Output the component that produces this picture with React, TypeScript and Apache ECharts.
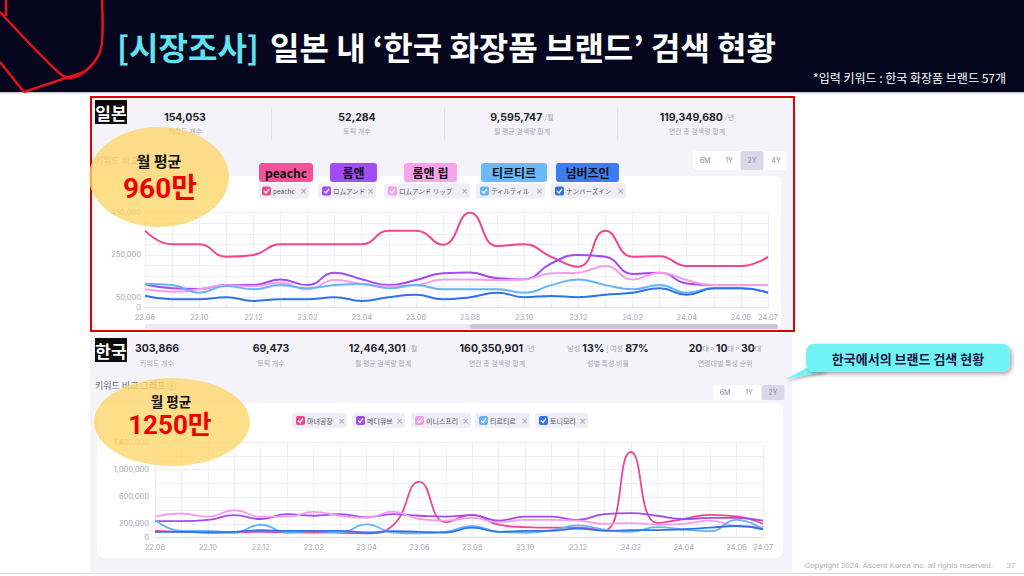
import React, { useEffect, useRef } from "react";
import * as echarts from "echarts";

// ---------- data ----------
const months = [
  "22.08", "22.09", "22.10", "22.11", "22.12", "23.01", "23.02", "23.03", "23.04", "23.05", "23.06", "23.07",
  "23.08", "23.09", "23.10", "23.11", "23.12", "24.01", "24.02", "24.03", "24.04", "24.05", "24.06", "24.07",
];

// Japan (monthly search volume)
const jpBrands = ["peachc", "ロムアンド", "ロムアンド リップ", "ティルティル", "ナンバーズイン"];
const jpBrandsKo = ["peachc", "롬앤", "롬앤 립", "티르티르", "넘버즈인"];
const jpPeachc = [365000, 300000, 300000, 241000, 250000, 300000, 300000, 300000, 300000, 365000, 365000, 298000, 450000, 292000, 300000, 241000, 194000, 365000, 241000, 244000, 197000, 198000, 197000, 241000];
const jpRomand = [111000, 92000, 89000, 107000, 107000, 134000, 107000, 166000, 135000, 107000, 131000, 163000, 167000, 139000, 135000, 210000, 250000, 241000, 160000, 166000, 115000, 107000, 107000, 107000];
const jpRomandLip = [87000, 76000, 87000, 107000, 102000, 118000, 87000, 131000, 112000, 102000, 107000, 134000, 134000, 131000, 134000, 163000, 166000, 197000, 134000, 166000, 131000, 107000, 107000, 107000];
const jpTirtir = [112000, 107000, 71000, 103000, 87000, 107000, 92000, 107000, 112000, 92000, 107000, 87000, 87000, 87000, 71000, 107000, 134000, 107000, 87000, 107000, 71000, 92000, 92000, 71000];
const jpNumbuzin = [57000, 40000, 40000, 50000, 32000, 40000, 40000, 50000, 32000, 50000, 61000, 40000, 50000, 71000, 50000, 55000, 50000, 61000, 71000, 92000, 61000, 92000, 92000, 71000];

// Korea (monthly search volume)
const krBrands = ["마녀공장", "메디큐브", "이니스프리", "티르티르", "토니모리"];
const krManyo = [95000, 81000, 71000, 71000, 81000, 71000, 71000, 67000, 57000, 176000, 819000, 224000, 333000, 186000, 152000, 143000, 143000, 105000, 1262000, 210000, 271000, 333000, 310000, 200000];
const krMedicube = [238000, 238000, 257000, 329000, 271000, 343000, 319000, 343000, 295000, 343000, 319000, 305000, 329000, 248000, 305000, 305000, 257000, 343000, 357000, 319000, 271000, 286000, 286000, 248000];
const krInnisfree = [305000, 352000, 305000, 400000, 305000, 305000, 376000, 319000, 286000, 381000, 271000, 248000, 286000, 224000, 257000, 257000, 248000, 200000, 210000, 186000, 200000, 248000, 167000, 152000];
const krTirtir = [257000, 95000, 95000, 71000, 186000, 71000, 90000, 71000, 190000, 71000, 57000, 81000, 167000, 81000, 67000, 105000, 176000, 114000, 81000, 152000, 114000, 90000, 257000, 119000];
const krTonymoly = [81000, 81000, 71000, 81000, 105000, 95000, 95000, 95000, 71000, 90000, 81000, 71000, 143000, 81000, 95000, 95000, 129000, 95000, 105000, 105000, 119000, 143000, 167000, 119000];

const topYTicks = [0, 50000, 250000, 450000];
const botYTicks = [0, 200000, 600000, 1000000, 1400000];

const jpStatValues = ["154,053", "52,284", "9,595,747", "119,349,680"];
const jpStatUnits = ["", "", "/월", "/년"];
const jpStatLabels = ["키워드 개수", "토픽 개수", "월 평균 검색량 합계", "연간 총 검색량 합계"];
const krStatValues = ["303,866", "69,473", "12,464,301", "160,350,901"];
const krStatUnits = ["", "", "/월", "/년"];
const krStatLabels = ["키워드 개수", "토픽 개수", "월 평균 검색량 합계", "연간 총 검색량 합계", "성별 특성 비율", "연령대별 특성 순위"];

const colors = ["#f0468f", "#a24af4", "#f49de9", "#66b4f6", "#3172e8"];
const overlayColors = ["#f2529a", "#a24df2", "#f6a4ec", "#6db8f6", "#3b7df0"];

// ---------- helpers ----------
const KR = '"Noto Sans CJK KR", "Noto Sans", sans-serif';
const JP = '"Noto Sans CJK JP", "Noto Sans", sans-serif';
const NUM = 'Inter, "Noto Sans CJK KR", sans-serif';

type Any = any;

function rect(x: number, y: number, w: number, h: number, fill: string, o: Any = {}): Any {
  return {
    type: "rect",
    z: o.z ?? -3,
    silent: true,
    shape: { x, y, width: w, height: h, r: o.r ?? 0 },
    style: { fill, stroke: o.stroke, lineWidth: o.lw, opacity: o.opacity, ...(o.style || {}) },
  };
}

function text(x: number, y: number, str: string, o: Any = {}): Any {
  const align = o.align ?? "left";
  return {
    type: "text",
    z: o.z ?? 5,
    silent: true,
    x,
    y,
    style: {
      text: str,
      fill: o.fill ?? "#222",
      fontSize: o.size ?? 10,
      fontWeight: o.weight ?? "normal",
      fontFamily: o.family ?? KR,
      textAlign: align,
      align,
      textVerticalAlign: "middle",
      verticalAlign: "middle",
      rich: o.rich,
      opacity: o.opacity,
    },
  };
}

function chip(x0: number, x1: number, yc: number, color: string, label: string, family: string, size: number): Any[] {
  return [
    rect(x0, yc - 7.5, x1 - x0, 15, "#efeef6", { r: 3, z: 3 }),
    rect(x0 + 4, yc - 4.5, 9, 9, color, { r: 2, z: 4 }),
    {
      type: "polyline",
      z: 5,
      silent: true,
      shape: { points: [[x0 + 6, yc], [x0 + 8, yc + 2], [x0 + 11, yc - 2]] },
      style: { stroke: "#fff", lineWidth: 1.3, fill: null },
    },
    text(x0 + 15, yc, label, { size, fill: "#555", family }),
    text(x1 - 5.5, yc, "×", { size: 8.5, fill: "#9a9aa6", align: "center", family: "DejaVu Sans" }),
  ];
}

function buttons(x0: number, x1: number, y0: number, h: number, labels: string[], centers: number[], hi: number): Any[] {
  const out: Any[] = [rect(x0, y0, x1 - x0, h, "#ffffff", { r: 3, z: 2 })];
  labels.forEach((l, i) => {
    if (i === hi) out.push(rect(centers[i] - 11.5, y0, 23, h, "#d9d7e8", { r: 2, z: 3 }));
    out.push(text(centers[i], y0 + h / 2, l, { size: 7, fill: "#8a8a98", align: "center", family: NUM }));
  });
  return out;
}

function statRich(value: string, unit: string): Any {
  return unit ? `{n|${value}} {u|${unit}}` : `{n|${value}}`;
}

const statRichStyle = {
  n: { fontSize: 10.5, fontWeight: "bold", fill: "#23232e", fontFamily: NUM },
  u: { fontSize: 7, fill: "#a0a0ad", fontFamily: KR },
  s: { fontSize: 7, fill: "#a0a0ad", fontFamily: KR },
};

function buildGraphics(): Any[] {
  const g: Any[] = [];
  // header
  g.push(rect(0, 0, 1024, 92, "#06061f", { z: -6 }));
  g.push(rect(0, 92, 1024, 1.5, "#c9c9d2", { z: -6 }));
  // logo lines
  const red = "#e3141c";
  g.push({ type: "polyline", z: -5, silent: true, shape: { points: [[0, 12], [58, 72], [70, 78], [84, 72], [97, 58], [102, 42], [102, 0]], smooth: 0.35 }, style: { stroke: red, lineWidth: 2.5, fill: null } });
  g.push({ type: "polyline", z: -5, silent: true, shape: { points: [[84, 72], [24, 92]] }, style: { stroke: red, lineWidth: 2.5, fill: null } });
  g.push({ type: "polyline", z: -5, silent: true, shape: { points: [[0, 62], [24, 92]] }, style: { stroke: red, lineWidth: 2.5, fill: null } });
  g.push({ type: "polyline", z: -5, silent: true, shape: { points: [[6, 0], [6, 16]] }, style: { stroke: red, lineWidth: 2.5, fill: null } });
  // title
  g.push(text(117, 46, "[시장조사]", { size: 32, weight: "bold", fill: "#5fe3f0", z: 5 }));
  g.push(text(270, 46, "일본 내 ‘한국 화장품 브랜드’ 검색 현황", { size: 32, weight: "bold", fill: "#ffffff", z: 5 }));
  g.push(text(1006, 77, "*입력 키워드 : 한국 화장품 브랜드 57개", { size: 12, fill: "#ffffff", align: "right" }));

  // ---- top (Japan) panel ----
  g.push(rect(91, 97, 703, 234, "#f4f3fa", { z: -4, stroke: "#e00000", lw: 2 }));
  g.push(rect(95, 176, 686, 154, "#ffffff", { z: -3, r: 6 }));
  g.push(rect(95, 100, 32, 24, "#0b0b0b", { z: 2 }));
  g.push(text(111, 112, "일본", { size: 17, weight: "bold", fill: "#fff", align: "center" }));
  const jpCenters = [185, 357, 522, 697];
  jpStatValues.forEach((v, i) => {
    g.push(text(jpCenters[i], 117, statRich(v, jpStatUnits[i]), { align: "center", rich: statRichStyle }));
    g.push(text(jpCenters[i], 131, jpStatLabels[i], { size: 7, fill: "#a6a6b3", align: "center" }));
  });
  [271, 444, 617].forEach((x) => g.push(rect(x, 108, 1, 32, "#e3e1ec", { z: 1 })));
  g.push(text(95, 160, "키워드 비교", { size: 9, fill: "#9d9daa" }));
  g.push(...buttons(693, 786, 151, 19, ["6M", "1Y", "2Y", "4Y"], [705, 729, 752, 776], 2));
  // overlay labels
  const ov = [[259, 313], [330, 377], [404, 457], [481, 547], [556, 619]];
  ov.forEach((p, i) => {
    g.push(rect(p[0], 163, p[1] - p[0], 19, overlayColors[i], { r: 3, z: 6 }));
    g.push(text((p[0] + p[1]) / 2, 172.5, jpBrandsKo[i], { size: 12, weight: "bold", fill: "#111", align: "center", z: 7 }));
  });
  const jpChips = [[258, 309], [318, 376], [384, 470], [476, 545], [551, 626]];
  jpChips.forEach((p, i) => g.push(...chip(p[0], p[1], 191, colors[i], jpBrands[i], JP, 6.5)));
  // scrollbar
  g.push(rect(145, 324, 633, 5, "#ebe9f3", { r: 2.5, z: 3 }));
  g.push(rect(470, 324, 308, 5, "#c9c6dc", { r: 2.5, z: 4 }));
  // yellow circle
  g.push({ type: "ellipse", z: 10, silent: true, shape: { cx: 159, cy: 177, rx: 70, ry: 50 }, style: { fill: "#fcd66c", opacity: 0.8 } });
  g.push(text(159, 160, "월 평균", { size: 15, weight: "bold", fill: "#111", align: "center", z: 11 }));
  g.push(text(160, 188, "960만", { size: 28, weight: "bold", fill: "#ee0000", align: "center", z: 11, family: 'Roboto, "Noto Sans CJK KR", sans-serif' }));

  // ---- bottom (Korea) panel ----
  g.push(rect(90, 334, 702, 238, "#f4f3fa", { z: -4 }));
  g.push(rect(97, 403, 686, 155, "#ffffff", { z: -3, r: 8 }));
  g.push(rect(95, 338, 32, 24, "#0b0b0b", { z: 2 }));
  g.push(text(111, 350, "한국", { size: 17, weight: "bold", fill: "#fff", align: "center" }));
  const krCenters = [157, 271, 383, 497, 608, 725];
  krStatValues.forEach((v, i) => {
    g.push(text(krCenters[i], 348, statRich(v, krStatUnits[i]), { align: "center", rich: statRichStyle }));
  });
  g.push(text(krCenters[4], 348, "{s|남성} {n|13%} {s|| 여성} {n|87%}", { align: "center", rich: statRichStyle }));
  g.push(text(krCenters[5], 348, "{n|20}{s|대 > }{n|10}{s|대 > }{n|30}{s|대}", { align: "center", rich: statRichStyle }));
  krStatLabels.forEach((l, i) => g.push(text(krCenters[i], 363, l, { size: 7, fill: "#a6a6b3", align: "center" })));
  g.push(text(95, 385, "키워드 비교 그래프 ⓘ", { size: 9, fill: "#6d6d7a" }));
  g.push(...buttons(713, 785, 385, 15, ["6M", "1Y", "2Y"], [725, 749, 773], 2));
  const krChips = [[292, 347], [352, 405], [411, 471], [475, 530], [535, 588]];
  krChips.forEach((p, i) => g.push(...chip(p[0], p[1], 420.5, colors[i], krBrands[i], KR, 7)));
  g.push({ type: "ellipse", z: 10, silent: true, shape: { cx: 172, cy: 422, rx: 78, ry: 44 }, style: { fill: "#fcd66c", opacity: 0.8 } });
  g.push(text(171, 400.5, "월 평균", { size: 13.5, weight: "bold", fill: "#111", align: "center", z: 11 }));
  g.push(text(170, 424.5, "1250만", { size: 26, weight: "bold", fill: "#ee0000", align: "center", z: 11, family: 'Roboto, "Noto Sans CJK KR", sans-serif' }));

  // callout
  g.push({ type: "polygon", z: 6, silent: true, shape: { points: [[810, 366], [786, 379], [828, 371]] }, style: { fill: "#72f4f7", shadowBlur: 3, shadowColor: "rgba(0,0,0,0.3)", shadowOffsetX: 1, shadowOffsetY: 2 } });
  g.push(rect(806, 344, 204, 28, "#72f4f7", { z: 6, r: 8, style: { shadowBlur: 4, shadowColor: "rgba(0,0,0,0.35)", shadowOffsetX: 2, shadowOffsetY: 2 } }));
  g.push(text(908, 358.5, "한국에서의 브랜드 검색 현황", { size: 13, weight: "bold", fill: "#16163e", align: "center", z: 7 }));

  // footer
  g.push(text(993, 565, "Copyright 2024. Ascent Korea inc. all rights reserved.", { size: 8, fill: "#b0b0b0", align: "right", family: '"Liberation Sans", Arial, sans-serif' }));
  g.push(text(1011, 565, "37", { size: 8, fill: "#b0b0b0", align: "center", family: '"Liberation Sans", Arial, sans-serif' }));
  g.push(rect(0, 573, 1024, 1, "#dddddd", { z: -4 }));
  return g;
}

function fmt(v: number) {
  return v.toLocaleString("en-US");
}

function makeSeries(data: number[], i: number, axis: number, width: number): Any {
  return {
    type: "line",
    xAxisIndex: axis,
    yAxisIndex: axis,
    data,
    smooth: true,
    showSymbol: false,
    symbol: "none",
    lineStyle: { color: colors[i], width },
    itemStyle: { color: colors[i] },
    z: 2,
  };
}

const axisLabelInterval = (i: number) => i % 2 === 0 || i === months.length - 1;

export default function App() {
  const ref = useRef<HTMLDivElement>(null);
  useEffect(() => {
    if (!ref.current) return;
    const chart = echarts.init(ref.current, undefined, { renderer: "svg", width: 1024, height: 576 });
    const xBase = () => ({
      type: "category",
      data: months,
      boundaryGap: false,
      axisLine: { lineStyle: { color: "#dddce6" } },
      axisTick: { show: false },
      axisLabel: { interval: axisLabelInterval, fontSize: 7.5, color: "#a9a9b6", margin: 6, fontFamily: NUM },
      splitLine: { show: true, interval: 0, lineStyle: { color: "#f0eff5" } },
    });
    const option: Any = {
      animation: false,
      backgroundColor: "#ffffff",
      grid: [
        { left: 145, right: 256, top: 212.7, bottom: 268.3 },
        { left: 155, right: 261, top: 442.7, bottom: 38.7 },
      ],
      xAxis: [
        { ...xBase(), gridIndex: 0 },
        { ...xBase(), gridIndex: 1 },
      ],
      yAxis: [
        {
          type: "value",
          gridIndex: 0,
          min: 0,
          max: 450000,
          interval: 50000,
          axisLine: { show: false },
          axisTick: { show: false },
          axisLabel: { fontSize: 7.5, color: "#a9a9b6", margin: 4, fontFamily: NUM, formatter: (v: number) => (topYTicks.includes(v) ? fmt(v) : "") },
          splitLine: { lineStyle: { color: "#efeef4" } },
        },
        {
          type: "value",
          gridIndex: 1,
          min: 0,
          max: 1400000,
          interval: 200000,
          axisLine: { show: false },
          axisTick: { show: false },
          axisLabel: { fontSize: 7.5, color: "#a9a9b6", margin: 6, fontFamily: NUM, formatter: (v: number) => (botYTicks.includes(v) ? fmt(v) : "") },
          splitLine: { lineStyle: { color: "#efeef4" } },
        },
      ],
      series: [
        makeSeries(jpPeachc, 0, 0, 2),
        makeSeries(jpRomand, 1, 0, 2),
        makeSeries(jpRomandLip, 2, 0, 2),
        makeSeries(jpTirtir, 3, 0, 2),
        makeSeries(jpNumbuzin, 4, 0, 2),
        makeSeries(krManyo, 0, 1, 1.8),
        makeSeries(krMedicube, 1, 1, 1.8),
        makeSeries(krInnisfree, 2, 1, 1.8),
        makeSeries(krTirtir, 3, 1, 1.8),
        makeSeries(krTonymoly, 4, 1, 1.8),
      ].map((s, i) => ({ ...s, name: i < 5 ? jpBrands[i] : krBrands[i - 5] })),
      graphic: { elements: buildGraphics() },
    };
    chart.setOption(option);
    return () => chart.dispose();
  }, []);
  return (
    <div
      ref={ref}
      style={{ position: "absolute", left: 0, top: 0, width: 1024, height: 576 }}
    />
  );
}
